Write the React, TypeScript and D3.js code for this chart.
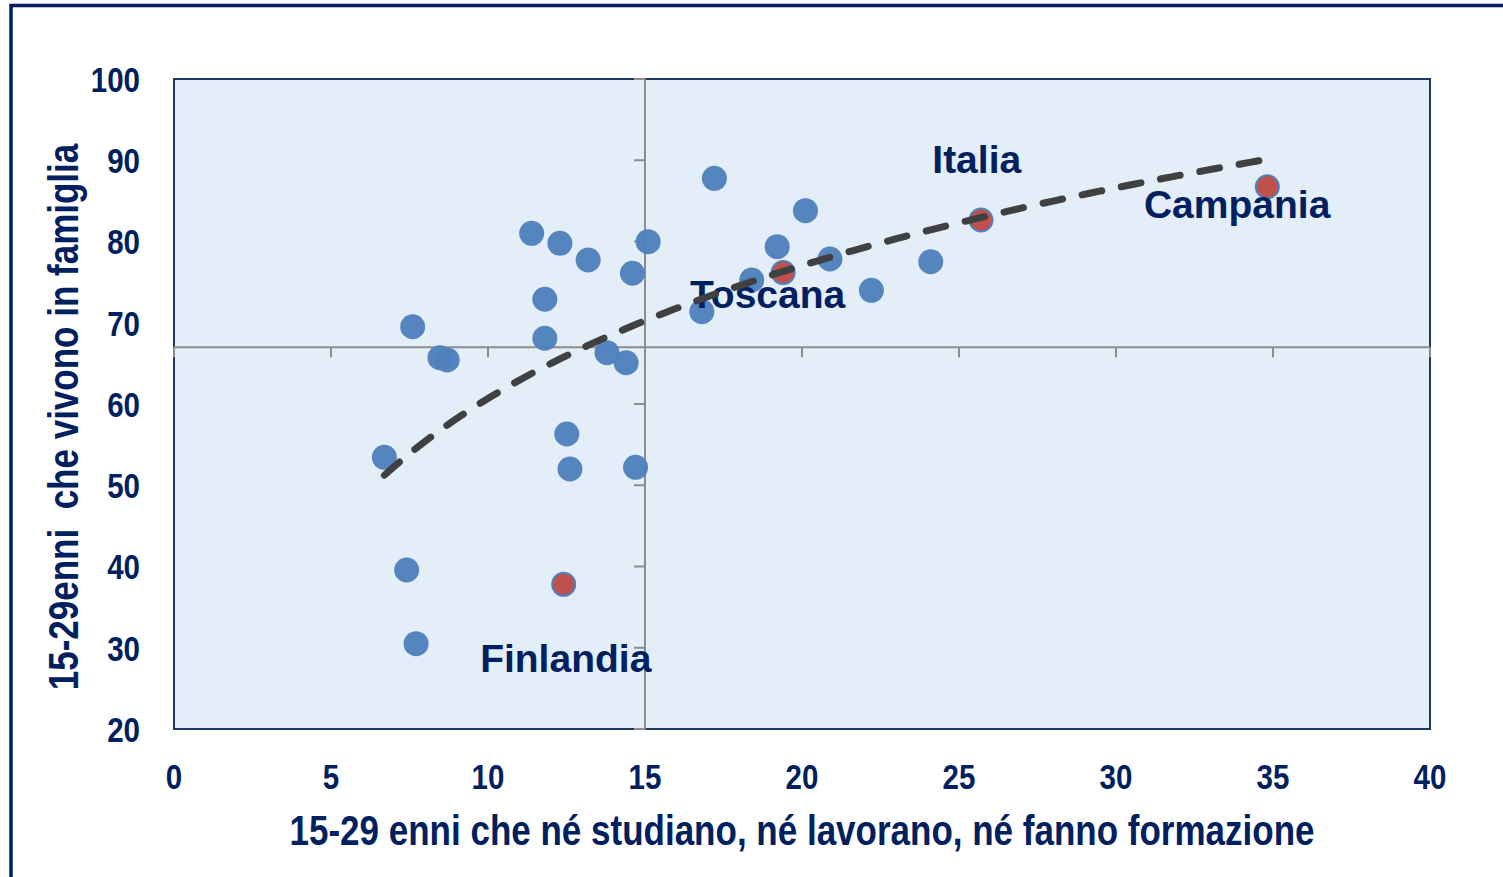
import React from "react";
import * as d3 from "d3";

// Paesi / regioni (punti blu)
const paesiX = [6.7, 7.6, 7.41, 7.71, 8.47, 8.7, 11.39, 11.81, 11.81, 12.29, 12.51, 12.61, 13.19, 13.79, 14.4, 14.6, 14.7, 15.1, 16.81, 17.21, 18.4, 19.21, 20.11, 20.89, 22.21, 24.1];
const paesiY = [53.44, 69.51, 39.57, 30.5, 65.7, 65.42, 81.01, 72.89, 68.09, 79.78, 56.31, 52.0, 77.72, 66.32, 65.08, 76.09, 52.21, 79.98, 71.36, 87.78, 75.26, 79.36, 83.79, 77.85, 73.99, 77.51];

// Punti evidenziati (rossi)
const evidNomi = ["Finlandia", "Toscana", "Italia", "Campania"];
const evidX = [12.41, 19.4, 25.7, 34.82];
const evidY = [37.81, 76.17, 82.65, 86.74];

// Etichette (ancora in coordinate dei dati: inizio testo, linea di base)
const etichettaX = [9.75, 16.43, 24.15, 30.89];
const etichettaY = [27.0, 71.8, 88.43, 82.9];

const xTicks = [0, 5, 10, 15, 20, 25, 30, 35, 40];
const yTicks = [20, 30, 40, 50, 60, 70, 80, 90, 100];
const crossX = 15;
const crossY = 67;

const W = 1503;
const H = 877;
const m = { left: 174, right: 1430, top: 79, bottom: 729 };

const navy = "#002060";
const font = "'Liberation Sans', Arial, sans-serif";
const SQUEEZE = 0.82; // simula un carattere "narrow"

function Narrow(props: {
  x: number;
  y: number;
  size: number;
  anchor?: string;
  rotate?: number;
  children: React.ReactNode;
}) {
  const { x, y, size, anchor = "middle", rotate = 0, children } = props;
  return (
    <text
      transform={`translate(${x},${y}) rotate(${rotate}) scale(${SQUEEZE},1)`}
      dy="0.36em"
      textAnchor={anchor}
      fontFamily={font}
      fontWeight="bold"
      fontSize={size}
      fill={navy}
      style={{ whiteSpace: "pre" }}
    >
      {children}
    </text>
  );
}

export default function App() {
  const x = d3.scaleLinear().domain([0, 40]).range([m.left, m.right]);
  const y = d3.scaleLinear().domain([20, 100]).range([m.bottom, m.top]);

  // tendenza logaritmica (minimi quadrati su tutti i punti)
  const allX = [...paesiX, ...evidX];
  const allY = [...paesiY, ...evidY];
  const lx = allX.map(Math.log);
  const mx = d3.mean(lx) as number;
  const my = d3.mean(allY) as number;
  const a =
    (d3.sum(lx, (v, i) => (v - mx) * (allY[i] - my)) as number) /
    (d3.sum(lx, (v) => (v - mx) * (v - mx)) as number);
  const b = my - a * mx;
  const [x0, x1] = d3.extent(allX) as [number, number];
  const trend = d3.range(0, 101).map((i) => {
    const xv = x0 + ((x1 - x0) * i) / 100;
    return [xv, a * Math.log(xv) + b] as [number, number];
  });
  const line = d3
    .line<[number, number]>()
    .x((d) => x(d[0]))
    .y((d) => y(d[1]));

  return (
    <svg width={W} height={H} style={{ position: "absolute", left: 0, top: 0, background: "#fff" }}>
      {/* cornice esterna */}
      <rect x={11} y={5.5} width={W + 100} height={H + 100} fill="none" stroke={navy} strokeWidth={3.5} />

      {/* area del grafico */}
      <rect
        x={m.left}
        y={m.top}
        width={m.right - m.left}
        height={m.bottom - m.top}
        fill="#E4EEF8"
        stroke="#1F3864"
        strokeWidth={2}
      />

      {/* assi incrociati */}
      <line x1={x(crossX)} x2={x(crossX)} y1={m.top} y2={m.bottom} stroke="#8C8C8C" strokeWidth={2} />
      <line x1={m.left} x2={m.right} y1={y(crossY)} y2={y(crossY)} stroke="#8C8C8C" strokeWidth={2} />
      {xTicks.map((t) => (
        <line key={"xt" + t} x1={x(t)} x2={x(t)} y1={y(crossY)} y2={y(crossY) + 10} stroke="#8C8C8C" strokeWidth={2} />
      ))}
      {yTicks.map((t) => (
        <line key={"yt" + t} x1={x(crossX) - 11} x2={x(crossX)} y1={y(t)} y2={y(t)} stroke="#8C8C8C" strokeWidth={2} />
      ))}

      {/* etichette tick */}
      {yTicks.map((t) => (
        <Narrow key={"yl" + t} x={140} y={y(t)} size={36} anchor="end">
          {t}
        </Narrow>
      ))}
      {xTicks.map((t) => (
        <Narrow key={"xl" + t} x={x(t)} y={776} size={36}>
          {t}
        </Narrow>
      ))}

      {/* titoli assi */}
      <Narrow x={802} y={830} size={42.7}>
        15-29 enni che né studiano, né lavorano, né fanno formazione
      </Narrow>
      <Narrow x={63} y={417} size={42.7} rotate={-90}>
        {"15-29enni  che vivono in famiglia"}
      </Narrow>

      {/* punti */}
      {paesiX.map((v, i) => (
        <circle key={"p" + i} cx={x(v)} cy={y(paesiY[i])} r={12.5} fill="#4F81BD" fillOpacity={0.97} />
      ))}
      {evidX.map((v, i) => (
        <circle key={"e" + i} cx={x(v)} cy={y(evidY[i])} r={11.5} fill="#C0504D" stroke="#4F81BD" strokeWidth={2} />
      ))}

      {/* etichette */}
      {evidNomi.map((n, i) => (
        <text
          key={"n" + n}
          x={x(etichettaX[i])}
          y={y(etichettaY[i])}
          fontFamily={font}
          fontWeight="bold"
          fontSize={39}
          fill={navy}
        >
          {n}
        </text>
      ))}

      {/* linea di tendenza */}
      <path
        d={line(trend) || ""}
        fill="none"
        stroke="#404040"
        strokeWidth={7}
        strokeDasharray="20 20"
        strokeLinecap="round"
      />
    </svg>
  );
}
